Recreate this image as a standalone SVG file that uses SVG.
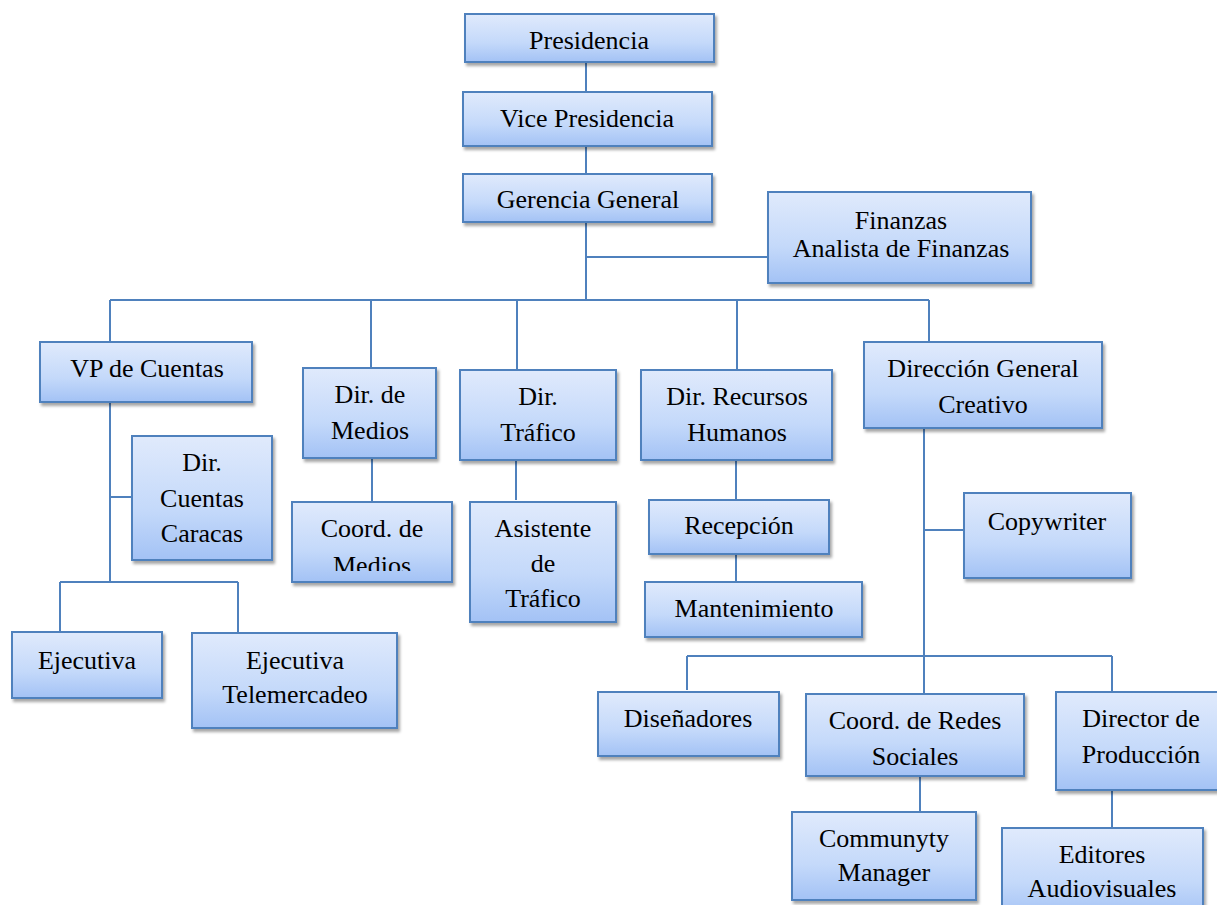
<svg xmlns="http://www.w3.org/2000/svg" width="1217" height="905" viewBox="0 0 1217 905">
<defs>
<linearGradient id="g" x1="0" y1="0" x2="0" y2="1">
<stop offset="0" stop-color="#e0eafc"/>
<stop offset="0.6" stop-color="#c4d9fa"/>
<stop offset="1" stop-color="#a3c2f5"/>
</linearGradient>
<filter id="sh" x="-10%" y="-10%" width="120%" height="130%">
<feDropShadow dx="2" dy="3" stdDeviation="1.6" flood-color="#000" flood-opacity="0.35"/>
</filter>
<clipPath id="clipCM"><rect x="292" y="502" width="160" height="69"/></clipPath>
</defs>
<style>
.b{fill:url(#g);stroke:#4f81bd;stroke-width:2;filter:url(#sh)}
.t{font-family:"Liberation Serif","Times New Roman",serif;font-size:26px;fill:#000;text-anchor:middle}
.c{stroke:#4f81bd;stroke-width:2;fill:none}
</style>
<g id="connectors">
<path class="c" d="M586 62V92M586 146V174M586 222V300M586 257H768"/>
<path class="c" d="M110 300H929M110 300V342M371 300V368M517 300V370M737 300V370M929 300V342"/>
<path class="c" d="M110 402V582M110 497H132M60 582H238M60 582V632M238 582V633"/>
<path class="c" d="M372 458V502M516 460V500M736 460V500M736 554V582"/>
<path class="c" d="M924 428V656M924 530H964M687 656H1112M687 656V690M924 656V694M1112 656V692"/>
<path class="c" d="M920 776V812M1112 790V828"/>
</g>
<g id="presidencia"><rect class="b" x="465" y="14" width="249" height="48"/><text class="t" x="589" y="49">Presidencia</text></g>
<g id="vicepresidencia"><rect class="b" x="463" y="92" width="249" height="54"/><text class="t" x="587" y="127">Vice Presidencia</text></g>
<g id="gerencia"><rect class="b" x="463" y="174" width="249" height="48"/><text class="t" x="588" y="208">Gerencia General</text></g>
<g id="finanzas"><rect class="b" x="768" y="192" width="263" height="91"/><text class="t" x="901" y="229">Finanzas</text><text class="t" x="901" y="257">Analista de Finanzas</text></g>
<g id="vpcuentas"><rect class="b" x="40" y="342" width="212" height="60"/><text class="t" x="147" y="377">VP de Cuentas</text></g>
<g id="dircuentas"><rect class="b" x="132" y="436" width="140" height="124"/><text class="t" x="202" y="471">Dir.</text><text class="t" x="202" y="507">Cuentas</text><text class="t" x="202" y="542">Caracas</text></g>
<g id="ejecutiva"><rect class="b" x="12" y="632" width="150" height="66"/><text class="t" x="87" y="669">Ejecutiva</text></g>
<g id="ejecutivatele"><rect class="b" x="192" y="633" width="205" height="95"/><text class="t" x="295" y="669">Ejecutiva</text><text class="t" x="295" y="703">Telemercadeo</text></g>
<g id="dirmedios"><rect class="b" x="303" y="368" width="133" height="90"/><text class="t" x="370" y="403">Dir. de</text><text class="t" x="370" y="439">Medios</text></g>
<g id="coordmedios"><rect class="b" x="292" y="502" width="160" height="80"/><g clip-path="url(#clipCM)"><text class="t" x="372" y="537">Coord. de</text><text class="t" x="372" y="574">Medios</text></g></g>
<g id="dirtrafico"><rect class="b" x="460" y="370" width="156" height="90"/><text class="t" x="538" y="405">Dir.</text><text class="t" x="538" y="441">Tráfico</text></g>
<g id="asistente"><rect class="b" x="470" y="502" width="146" height="120"/><text class="t" x="543" y="537">Asistente</text><text class="t" x="543" y="572">de</text><text class="t" x="543" y="607">Tráfico</text></g>
<g id="dirrrhh"><rect class="b" x="641" y="370" width="191" height="90"/><text class="t" x="737" y="405">Dir. Recursos</text><text class="t" x="737" y="441">Humanos</text></g>
<g id="recepcion"><rect class="b" x="649" y="500" width="180" height="54"/><text class="t" x="739" y="534">Recepción</text></g>
<g id="mantenimiento"><rect class="b" x="645" y="582" width="217" height="55"/><text class="t" x="754" y="617">Mantenimiento</text></g>
<g id="dircreativo"><rect class="b" x="864" y="342" width="238" height="86"/><text class="t" x="983" y="377">Dirección General</text><text class="t" x="983" y="413">Creativo</text></g>
<g id="copywriter"><rect class="b" x="964" y="493" width="167" height="85"/><text class="t" x="1047" y="530">Copywriter</text></g>
<g id="disenadores"><rect class="b" x="598" y="692" width="181" height="64"/><text class="t" x="688" y="727">Diseñadores</text></g>
<g id="coordredes"><rect class="b" x="806" y="694" width="218" height="82"/><text class="t" x="915" y="729">Coord. de Redes</text><text class="t" x="915" y="765">Sociales</text></g>
<g id="dirproduccion"><rect class="b" x="1056" y="692" width="170" height="98"/><text class="t" x="1141" y="727">Director de</text><text class="t" x="1141" y="763">Producción</text></g>
<g id="community"><rect class="b" x="792" y="812" width="184" height="88"/><text class="t" x="884" y="847">Communyty</text><text class="t" x="884" y="881">Manager</text></g>
<g id="editores"><rect class="b" x="1002" y="828" width="201" height="90"/><text class="t" x="1102" y="863">Editores</text><text class="t" x="1102" y="897">Audiovisuales</text></g>
</svg>
